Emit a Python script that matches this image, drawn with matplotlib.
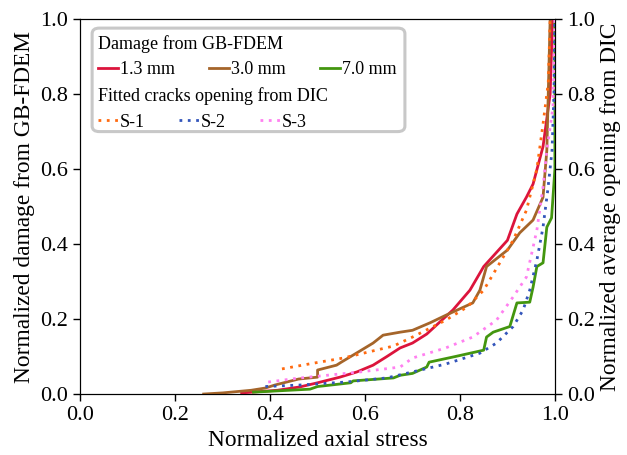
import matplotlib
matplotlib.use("Agg")
import matplotlib.pyplot as plt
from matplotlib.patches import FancyBboxPatch

plt.rcParams['font.family'] = ['Liberation Serif', 'DejaVu Serif']
plt.rcParams['mathtext.fontset'] = 'stix'

# ---- data ----
r13_x = [0.34, 0.415, 0.463, 0.50, 0.547, 0.583, 0.617, 0.646, 0.674, 0.70, 0.73, 0.785, 0.821, 0.85, 0.90, 0.92, 0.94, 0.954, 0.975, 0.99, 0.995]
r13_y = [0.003, 0.01, 0.019, 0.03, 0.045, 0.059, 0.077, 0.10, 0.123, 0.136, 0.16, 0.224, 0.277, 0.34, 0.41, 0.48, 0.525, 0.56, 0.66, 0.80, 1.0]

r30_x = [0.26, 0.30, 0.36, 0.39, 0.41, 0.46, 0.50, 0.50, 0.54, 0.55, 0.583, 0.617, 0.638, 0.674, 0.70, 0.737, 0.77, 0.827, 0.842, 0.856, 0.90, 0.926, 0.954, 0.975, 0.983, 0.99]
r30_y = [0.0, 0.003, 0.01, 0.016, 0.024, 0.04, 0.045, 0.064, 0.077, 0.085, 0.11, 0.136, 0.157, 0.165, 0.17, 0.19, 0.21, 0.243, 0.277, 0.34, 0.384, 0.43, 0.464, 0.525, 0.65, 1.0]

r70_x = [0.365, 0.484, 0.50, 0.57, 0.575, 0.66, 0.674, 0.70, 0.73, 0.735, 0.79, 0.85, 0.856, 0.87, 0.905, 0.92, 0.947, 0.954, 0.962, 0.975, 0.983, 0.993, 1.0, 1.0]
r70_y = [0.005, 0.013, 0.02, 0.03, 0.035, 0.043, 0.05, 0.055, 0.072, 0.085, 0.10, 0.117, 0.152, 0.165, 0.18, 0.243, 0.245, 0.285, 0.34, 0.35, 0.445, 0.47, 0.60, 1.0]

s1_x = [0.425, 0.49, 0.554, 0.61, 0.66, 0.70, 0.77, 0.815, 0.85, 0.884, 0.912, 0.94, 0.962, 0.975, 0.986, 0.99]
s1_y = [0.067, 0.082, 0.096, 0.113, 0.128, 0.152, 0.197, 0.232, 0.277, 0.35, 0.41, 0.49, 0.60, 0.72, 0.83, 1.0]

s2_x = [0.39, 0.463, 0.56, 0.646, 0.70, 0.77, 0.842, 0.877, 0.912, 0.933, 0.947, 0.962, 0.975, 0.985, 0.994, 0.998, 1.0]
s2_y = [0.02, 0.024, 0.032, 0.043, 0.059, 0.08, 0.109, 0.136, 0.18, 0.224, 0.277, 0.357, 0.445, 0.544, 0.65, 0.80, 1.0]

s3_x = [0.396, 0.457, 0.52, 0.59, 0.674, 0.70, 0.77, 0.827, 0.877, 0.912, 0.94, 0.962, 0.975, 0.983, 0.996, 1.0]
s3_y = [0.032, 0.042, 0.05, 0.059, 0.072, 0.096, 0.123, 0.152, 0.197, 0.259, 0.312, 0.437, 0.552, 0.65, 0.765, 1.0]

sim_labels = ["1.3 mm", "3.0 mm", "7.0 mm"]
dic_labels = ["S-1", "S-2", "S-3"]
ticks = [0.0, 0.2, 0.4, 0.6, 0.8, 1.0]

sim_colors = ["#dc143c", "#a5652a", "#43960f"]
dic_colors = ["#ff6a10", "#3355bb", "#ff80f0"]

fig = plt.figure(figsize=(6.27, 4.55), dpi=100)
ax = fig.add_axes([0.128, 0.134, 0.757, 0.824])
ax2 = ax.twinx()

fs = 16
lab_fs = 16.8
dot = (0, (1, 2))
h = []
for xs, ys, c in zip([r13_x, r30_x, r70_x], [r13_y, r30_y, r70_y], sim_colors):
    ln, = ax.plot(xs, ys, color=c, lw=2, zorder=3)
    h.append(ln)
d = []
for xs, ys, c in zip([s1_x, s2_x, s3_x], [s1_y, s2_y, s3_y], dic_colors):
    ln, = ax2.plot(xs, ys, color=c, lw=2, ls=dot, zorder=3)
    d.append(ln)

for a in (ax, ax2):
    a.set_xlim(0, 1)
    a.set_ylim(0, 1)
    a.set_yticks(ticks)
    a.set_yticklabels([f"{t:.1f}" for t in ticks])
    a.tick_params(labelsize=fs, length=5, width=1)
ax.set_xticks(ticks)
ax.set_xticklabels([f"{t:.1f}" for t in ticks])
ax.set_xlabel("Normalized axial stress", fontsize=lab_fs)
ax.set_ylabel("Normalized damage from GB-FDEM", fontsize=lab_fs)
ax2.set_ylabel("Normalized average opening from DIC", fontsize=lab_fs)

lfs = 13
common = dict(ncol=3, frameon=False, fontsize=lfs, title_fontsize=lfs,
              handlelength=1.1, handletextpad=0.1, columnspacing=1.9,
              alignment='left', borderpad=0, borderaxespad=0, labelspacing=0.2)
leg1 = ax2.legend(h, sim_labels, title="Damage from GB-FDEM", loc='upper left',
                  bbox_to_anchor=(0.038, 0.957), **common)
ax2.add_artist(leg1)
leg2 = ax2.legend(d, dic_labels, title="Fitted cracks opening from DIC", loc='upper left',
                  bbox_to_anchor=(0.038, 0.818), **common)
for lg in (leg1, leg2):
    lg._legend_box.sep = 6

box = FancyBboxPatch((0.025, 0.70), 0.659, 0.276, boxstyle="round,pad=0,rounding_size=0.015",
                     transform=ax2.transAxes, facecolor='white', edgecolor='#c8c8c8',
                     lw=2.2, zorder=4)
ax2.add_patch(box)
leg1.set_zorder(5)
leg2.set_zorder(5)

fig.savefig("out.png", dpi=100)
